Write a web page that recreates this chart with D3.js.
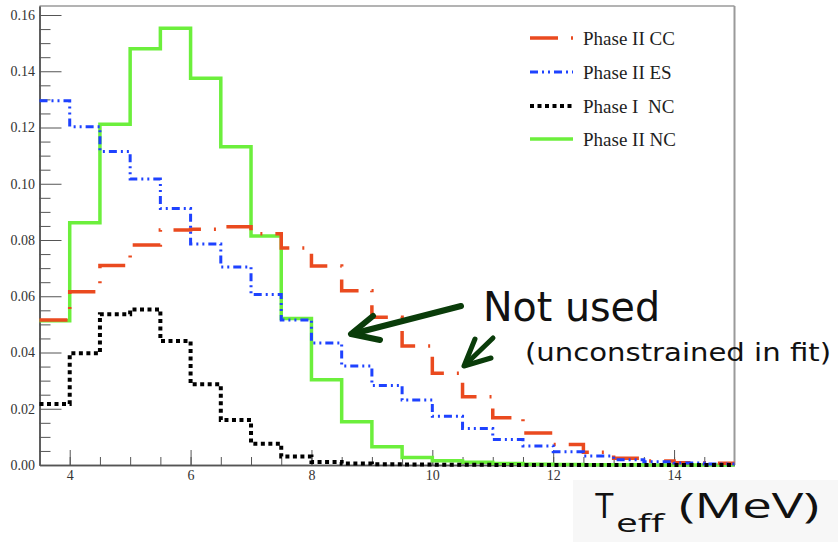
<!DOCTYPE html>
<html lang="en">
<head>
<meta charset="UTF-8">
<title>Teff spectra</title>
<script src="https://cdn.jsdelivr.net/npm/d3@7/dist/d3.min.js"></script>
<style>
    body { margin: 0; background: #fff; }
    svg { display: block; }
    .tick text { font-family: "Liberation Serif", "Times New Roman", serif; font-size: 14px; fill: #333; }
    .legend text { font-family: "Liberation Serif", "Times New Roman", serif; font-size: 19px; fill: #1e1e1e; white-space: pre; }
    .note { font-family: "DejaVu Sans", sans-serif; fill: #111; }
    .axtitle { font-family: "Open Sans", "DejaVu Sans", sans-serif; fill: #111; }
</style>
</head>
<body>
<svg id="chart" width="838" height="542"></svg>
<script>
    // bin low edges (width 0.5 MeV), last bin ends at 15
    var binLow = [3.5, 4, 4.5, 5, 5.5, 6, 6.5, 7, 7.5, 8, 8.5, 9, 9.5, 10, 10.5, 11, 11.5, 12, 12.5, 13, 13.5, 14, 14.5];
    var binEnd = 15;

    var ccValues  = [0.0516, 0.0616, 0.0709, 0.0782, 0.0836, 0.0838, 0.0847, 0.0822, 0.0772, 0.0708, 0.0620, 0.0525, 0.0423, 0.0326, 0.0243, 0.0168, 0.0114, 0.0073, 0.0045, 0.0024, 0.0014, 0.0008, 0.0006];
    var esValues  = [0.1295, 0.1203, 0.1115, 0.1017, 0.0912, 0.0786, 0.0704, 0.0606, 0.0516, 0.0434, 0.0352, 0.0283, 0.0231, 0.0173, 0.0130, 0.0091, 0.0068, 0.0047, 0.0032, 0.0019, 0.0012, 0.0007, 0.0004];
    var nc1Values = [0.0217, 0.0397, 0.0536, 0.0553, 0.0441, 0.0287, 0.0160, 0.0076, 0.0030, 0.0011, 0.0005, 0.0003, 0.0002, 0.0001, 0.0001, 0, 0, 0, 0, 0, 0, 0, 0];
    var nc2Values = [0.0513, 0.0861, 0.1212, 0.1480, 0.1553, 0.1375, 0.1132, 0.0814, 0.0521, 0.0303, 0.0154, 0.0065, 0.0027, 0.0015, 0.0010, 0.0005, 0.0003, 0.0002, 0.0001, 0.0001, 0, 0, 0];

    var legendLabels = ["Phase II CC", "Phase II ES", "Phase I  NC", "Phase II NC"];

    var xMajor = [4, 6, 8, 10, 12, 14];
    var xMinor = [4, 4.5, 5, 5.5, 6, 6.5, 7, 7.5, 8, 8.5, 9, 9.5, 10, 10.5, 11, 11.5, 12, 12.5, 13, 13.5, 14, 14.5];
    var yMajor = [0, 0.02, 0.04, 0.06, 0.08, 0.10, 0.12, 0.14, 0.16];
    var yMinor = [0.005, 0.01, 0.015, 0.025, 0.03, 0.035, 0.045, 0.05, 0.055, 0.065, 0.07, 0.075,
                  0.085, 0.09, 0.095, 0.105, 0.11, 0.115, 0.125, 0.13, 0.135, 0.145, 0.15, 0.155];

    var svg = d3.select("#chart");

    var x = d3.scaleLinear().domain([3.5, 15]).range([39.5, 734.5]);
    var y = d3.scaleLinear().domain([0, 0.1632]).range([465, 6]);

    // series styles, drawn in this order (green underneath)
    var series = [
        { name: legendLabels[3], values: nc2Values, color: "#6cef3c", width: 3.5, dash: null,          row: 3 },
        { name: legendLabels[0], values: ccValues,  color: "#ea4a1f", width: 3.5, dash: "28,13,2,13",  row: 0 },
        { name: legendLabels[1], values: esValues,  color: "#1e42ff", width: 3,   dash: "8,4,2,4,2,4", row: 1 },
        { name: legendLabels[2], values: nc1Values, color: "#000000", width: 4,   dash: "4,3.5",       row: 2 }
    ];

    // frame: top and right border
    svg.append("line")
        .attr("x1", x(3.5)).attr("x2", x(15))
        .attr("y1", y(0.1632)).attr("y2", y(0.1632))
        .attr("stroke", "#9a9a9a").attr("stroke-width", 1.5);
    svg.append("line")
        .attr("x1", x(15)).attr("x2", x(15))
        .attr("y1", y(0.1632)).attr("y2", y(0))
        .attr("stroke", "#9a9a9a").attr("stroke-width", 2);

    // axes with inward ticks
    svg.append("g")
        .attr("transform", "translate(0," + y(0) + ")")
        .attr("color", "#555")
        .call(d3.axisBottom(x).tickValues(xMinor).tickSize(-8).tickSizeOuter(0).tickFormat(""));
    svg.append("g")
        .attr("transform", "translate(0," + y(0) + ")")
        .attr("color", "#555")
        .call(d3.axisBottom(x).tickValues(xMajor).tickSize(-15).tickSizeOuter(0).tickPadding(5).tickFormat(d3.format("d")));

    svg.append("g")
        .attr("transform", "translate(" + x(3.5) + ",0)")
        .attr("color", "#555")
        .call(d3.axisLeft(y).tickValues(yMinor).tickSize(-11).tickSizeOuter(0).tickFormat(""));
    svg.append("g")
        .attr("transform", "translate(" + x(3.5) + ",0)")
        .attr("color", "#555")
        .call(d3.axisLeft(y).tickValues(yMajor).tickSize(-22).tickSizeOuter(0).tickPadding(4.5).tickFormat(d3.format(".2f")));

    svg.selectAll(".domain").attr("stroke-width", 1.5);

    // histograms as step lines
    var step = d3.line()
        .x(d => x(d[0]))
        .y(d => y(d[1]))
        .curve(d3.curveStepAfter);

    series.forEach(function(s) {
        var pts = binLow.map((b, i) => [b, s.values[i]]);
        pts.push([binEnd, s.values[s.values.length - 1]]);
        svg.append("path")
            .attr("d", step(pts))
            .attr("fill", "none")
            .attr("stroke", s.color)
            .attr("stroke-width", s.width)
            .attr("stroke-dasharray", s.dash);
    });

    // legend
    var legendY = [38, 72, 106, 139];
    var leg = svg.append("g").attr("class", "legend");
    series.forEach(function(s) {
        leg.append("line")
            .attr("x1", 530).attr("x2", 573)
            .attr("y1", legendY[s.row]).attr("y2", legendY[s.row])
            .attr("stroke", s.color)
            .attr("stroke-width", s.width)
            .attr("stroke-dasharray", s.dash);
        leg.append("text")
            .attr("x", 583)
            .attr("y", legendY[s.row] + 6.5)
            .text(s.name);
    });

    // annotations
    var arrowColor = "#0a3c0a";
    var arrowLine = d3.line();
    var arrows = [
        { pts: [[461, 306], [352, 334]], w: 6 },
        { pts: [[373, 316], [351, 334], [380, 340]], w: 6 },
        { pts: [[493, 338], [465, 365]], w: 5 },
        { pts: [[475, 339], [464, 366], [491, 358]], w: 5 }
    ];
    arrows.forEach(function(a) {
        svg.append("path")
            .attr("d", arrowLine(a.pts))
            .attr("fill", "none")
            .attr("stroke", arrowColor)
            .attr("stroke-width", a.w)
            .attr("stroke-linecap", "round")
            .attr("stroke-linejoin", "round");
    });

    svg.append("text")
        .attr("class", "note")
        .attr("x", 483).attr("y", 321)
        .attr("font-size", 40)
        .attr("textLength", 177)
        .attr("lengthAdjust", "spacingAndGlyphs")
        .text("Not used");

    svg.append("text")
        .attr("class", "note")
        .attr("x", 525).attr("y", 361)
        .attr("font-size", 25)
        .attr("textLength", 306)
        .attr("lengthAdjust", "spacingAndGlyphs")
        .text("(unconstrained in fit)");

    // axis title box
    svg.append("rect")
        .attr("x", 573).attr("y", 480)
        .attr("width", 265).attr("height", 62)
        .attr("fill", "#f7f7f7");

    var title = svg.append("text").attr("class", "axtitle");
    title.append("tspan").attr("x", 595).attr("y", 518).attr("font-size", 34).text("T");
    title.append("tspan").attr("x", 616).attr("y", 532).attr("font-size", 26)
        .attr("textLength", 48).attr("lengthAdjust", "spacingAndGlyphs").text("eff");
    title.append("tspan").attr("x", 679).attr("y", 518).attr("font-size", 34)
        .attr("textLength", 140).attr("lengthAdjust", "spacingAndGlyphs").text("(MeV)");
</script>
</body>
</html>
